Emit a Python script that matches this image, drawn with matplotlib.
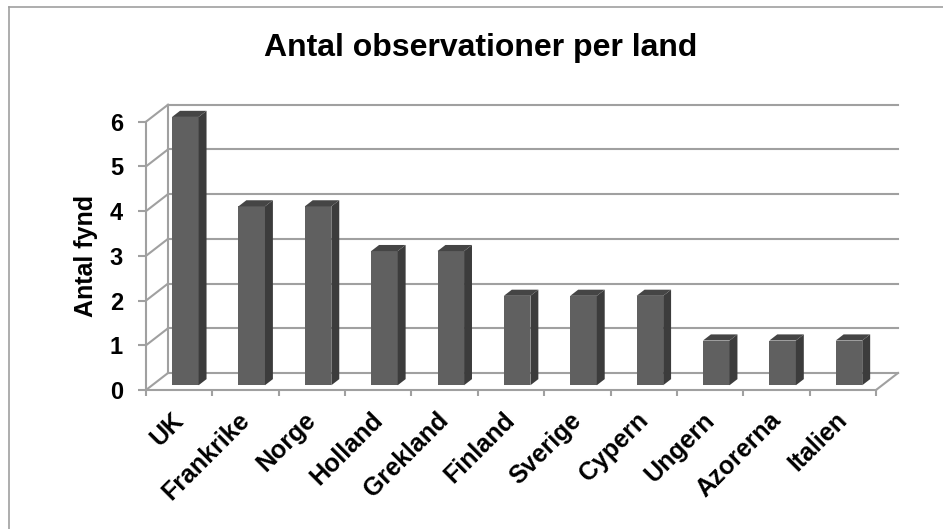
import numpy as np
import matplotlib.pyplot as plt
from matplotlib.patches import Polygon
from matplotlib.transforms import offset_copy

plt.rcParams['font.family'] = ['Liberation Sans', 'DejaVu Sans']
plt.rcParams['font.weight'] = 'bold'

lander = ["UK", "Frankrike", "Norge", "Holland", "Grekland", "Finland",
          "Sverige", "Cypern", "Ungern", "Azorerna", "Italien"]
antal = [6, 4, 4, 3, 3, 2, 2, 2, 1, 1, 1]
yticks = [0, 1, 2, 3, 4, 5, 6]

W, H = 943, 529
fig = plt.figure(figsize=(W / 100, H / 100), dpi=100)
# axes frame = front plane of the 3D box
ax = fig.add_axes([146 / W, (H - 390) / H, 730 / W, 268.3 / H])
n = len(lander)
ax.set_xlim(0, n)
ax.set_ylim(0, 6)
for s in ax.spines.values():
    s.set_visible(False)

grid = '#a0a0a0'
lw = 1.5
# depth offset (in data units) for the back wall
dx = 22 / (730 / n)
dy = 17 / (268.3 / 6)

# back wall + side wall gridlines
for v in yticks:
    ax.plot([dx, n + dx], [v + dy, v + dy], color=grid, lw=lw, clip_on=False, zorder=1)
    ax.plot([0, dx], [v, v + dy], color=grid, lw=lw, clip_on=False, zorder=1)
ax.plot([0, 0], [0, 6], color=grid, lw=lw, clip_on=False, zorder=1)
ax.plot([dx, dx], [dy, 6 + dy], color=grid, lw=lw, clip_on=False, zorder=1)
ax.plot([0, n], [0, 0], color=grid, lw=lw, clip_on=False, zorder=1)
ax.plot([n, n + dx], [0, dy], color=grid, lw=lw, clip_on=False, zorder=1)

# 3D looking bars
f0, f1 = 0.28, 0.64
for i, v in enumerate(antal):
    xl = i + 0.3 + f0 * dx
    xr = i + 0.7 + f0 * dx
    y0 = f0 * dy
    ddx = (f1 - f0) * dx
    ddy = (f1 - f0) * dy
    front = Polygon([(xl, y0), (xr, y0), (xr, v + y0), (xl, v + y0)],
                    closed=True, fc='#606060', ec='none', clip_on=False, zorder=3)
    side = Polygon([(xr, y0), (xr + ddx, y0 + ddy), (xr + ddx, v + y0 + ddy), (xr, v + y0)],
                   closed=True, fc='#3c3c3c', ec='none', clip_on=False, zorder=3)
    top = Polygon([(xl, v + y0), (xr, v + y0), (xr + ddx, v + y0 + ddy), (xl + ddx, v + y0 + ddy)],
                  closed=True, fc='#454545', ec='none', clip_on=False, zorder=3)
    for p in (front, side, top):
        ax.add_patch(p)

ax.set_yticks(yticks)
ax.set_yticklabels([str(t) for t in yticks], fontsize=17, fontweight='bold')
ax.tick_params(axis='y', length=5.5, width=lw, color=grid, pad=11)
ax.set_xticks(range(n + 1))
ax.set_xticklabels([])
ax.tick_params(axis='x', length=4.5, width=lw, color=grid)

for i, name in enumerate(lander):
    tr = offset_copy(ax.transData, fig=fig, x=-8, y=-18, units='dots')
    ax.text(i + 0.5, 0, name, transform=tr, rotation=45, rotation_mode='anchor',
            ha='right', va='top', fontsize=18, fontweight='bold')

fig.text(86 / W, 1 - 256 / H, "Antal fynd", rotation=90, ha='center', va='center',
         fontsize=18, fontweight='bold')
fig.text(481 / W, 1 - 48 / H, "Antal observationer per land", ha='center', va='center',
         fontsize=23, fontweight='bold')

# chart border (top and left visible)
fig.add_artist(plt.Line2D([8.5 / W, 8.5 / W], [0, 1 - 7 / H], color='#a0a0a0', lw=1.2))
fig.add_artist(plt.Line2D([8.5 / W, 1], [1 - 7 / H, 1 - 7 / H], color='#a0a0a0', lw=1.2))

fig.savefig("out.png", dpi=100)
